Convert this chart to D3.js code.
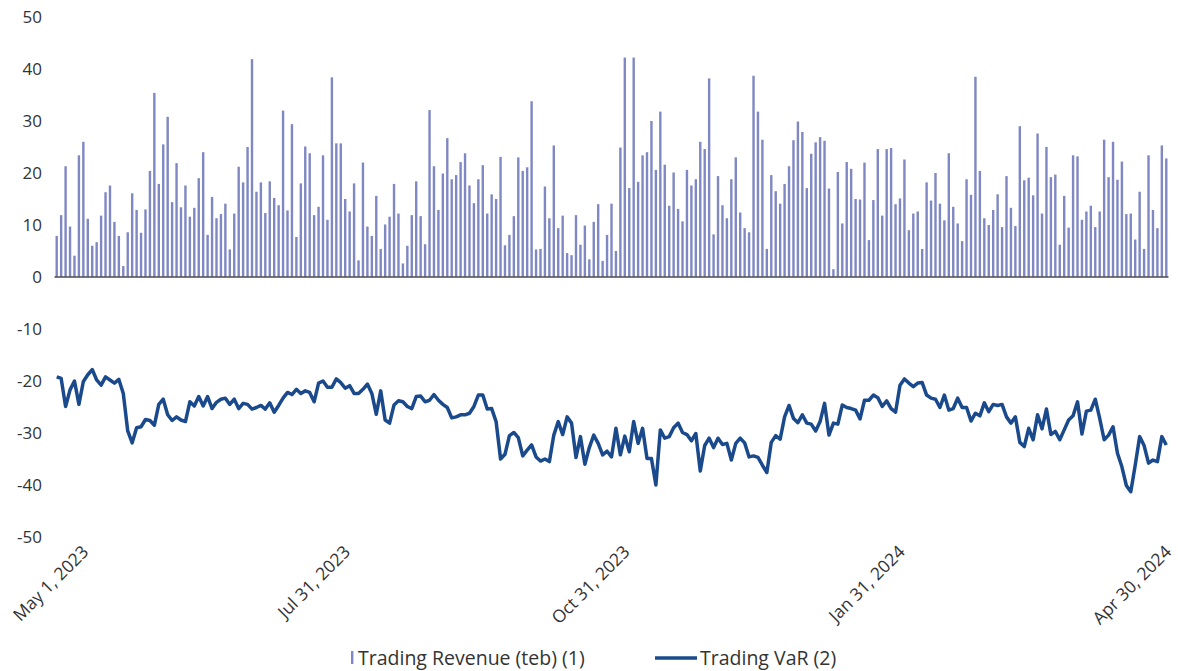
<!DOCTYPE html>
<html>
<head>
<meta charset="utf-8">
<script src="https://cdn.jsdelivr.net/npm/d3@7"></script>
<style>
  body { margin: 0; background: #fff; }
  text { font-family: "Open Sans", Lato, sans-serif; fill: #333; }
</style>
</head>
<body>
<div id="chart"></div>
<script>
// Daily trading revenue (teb), one bar per trading day, May 1 2023 - Apr 30 2024
let revenue = [
  7.9, 11.9, 21.3, 9.7, 4.1, 23.4, 26.0, 11.2, 6.0, 6.7, 11.8, 16.3, 17.6, 10.6, 7.9, 2.1, 8.6, 16.1, 12.9, 8.5, 13.0, 20.4, 35.4, 17.9, 25.5, 30.8, 14.4, 21.9, 13.4, 17.6, 11.6, 13.3, 19.0, 24.0, 8.1, 15.4, 11.3, 12.1, 14.1, 5.3, 12.2, 21.2,
  18.2, 25.0, 41.9, 16.4, 18.2, 12.3, 18.4, 15.2, 13.8, 32.0, 12.8, 29.4, 7.7, 18.0, 25.1, 23.8, 11.9, 13.5, 23.4, 11.0, 38.4, 25.7, 25.7, 15.0, 12.6, 18.0, 3.2, 22.0, 9.7, 7.9, 15.6, 5.4, 10.1, 11.6, 17.9, 12.2, 2.6, 6.0, 11.9, 18.4, 11.7, 6.3,
  32.1, 21.3, 12.9, 19.9, 26.7, 18.8, 19.6, 22.1, 23.8, 17.6, 14.2, 18.8, 21.5, 12.2, 15.9, 15.0, 23.1, 6.1, 8.1, 11.7, 23.0, 20.4, 21.1, 33.8, 5.3, 5.4, 17.4, 11.3, 25.3, 9.4, 11.8, 4.6, 4.2, 11.9, 6.2, 9.9, 3.4, 10.6, 14.0, 3.1, 8.1,
  14.1, 5.0, 24.9, 42.2, 17.1, 42.2, 18.3, 23.4, 24.0, 30.0, 20.6, 31.8, 21.6, 13.7, 20.1, 13.1, 10.7, 20.6, 17.6, 18.8, 26.0, 24.6, 38.2, 8.2, 19.4, 13.8, 11.3, 18.8, 23.0, 12.4, 9.4, 8.6, 38.7, 31.8, 26.4, 5.4, 19.6, 16.5, 14.1, 17.9, 21.3, 26.3,
  29.9, 27.9, 17.1, 23.7, 25.9, 26.9, 26.2, 17.0, 1.5, 20.2, 10.3, 22.1, 20.8, 15.0, 14.9, 22.0, 7.1, 14.8, 24.6, 11.8, 24.6, 24.8, 14.0, 15.1, 22.6, 9.0, 12.2, 12.6, 5.4, 18.2, 14.7, 20.0, 14.1, 10.9, 23.8, 13.5, 10.3, 6.9, 18.8, 15.8, 38.5, 20.4,
  11.3, 10.0, 12.9, 15.9, 9.6, 19.4, 13.3, 9.8, 29.0, 18.6, 19.1, 15.7, 27.6, 12.2, 25.0, 19.2, 19.7, 6.2, 15.6, 9.5, 23.4, 23.2, 11.0, 12.6, 13.7, 9.6, 12.6, 26.4, 19.2, 26.0, 18.7, 22.2, 12.1, 12.2, 7.2, 16.4, 5.4, 23.4, 12.9, 9.4, 25.3, 22.8
];

// Daily trading VaR
let tradingVaR = [
  -19.2, -19.5, -24.9, -21.7, -20.0, -24.5, -20.1, -18.8, -17.8, -19.8,
  -20.8, -19.2, -19.8, -20.4, -19.7, -22.4, -29.6, -31.9, -29.0, -28.8,
  -27.4, -27.6, -28.5, -24.5, -23.5, -26.5, -27.6, -26.9, -27.5, -27.8,
  -24.0, -24.8, -23.0, -24.8, -23.0, -25.3, -24.1, -23.5, -23.3, -24.5,
  -23.5, -25.3, -24.3, -24.5, -25.4, -25.1, -24.7, -25.4, -24.2, -26.0,
  -24.7, -23.3, -22.2, -22.6, -21.6, -22.4, -21.9, -22.2, -24.0, -20.4,
  -20.0, -21.2, -21.2, -19.6, -20.3, -21.4, -20.9, -22.4, -22.4, -21.6,
  -20.6, -22.4, -26.4, -21.9, -27.5, -28.1, -24.6, -23.8, -24.0, -24.9,
  -25.3, -23.0, -22.9, -24.0, -23.7,
  -22.6, -23.7, -24.5, -25.1, -27.1, -26.9, -26.5, -26.5, -26.2, -24.9,
  -22.7, -22.7, -25.4, -25.3, -27.8, -35.0, -34.1, -30.5, -29.9, -30.9,
  -34.4, -33.3, -32.3, -34.6, -35.4, -35.0, -35.5, -30.4, -27.8, -30.3,
  -26.9, -28.1, -34.7, -30.7, -36.0, -32.8, -30.4, -32.0, -34.2, -33.5,
  -34.6, -29.1, -34.2, -30.6, -33.6, -27.8, -32.0, -29.1, -34.9, -34.9,
  -40.0, -29.4, -31.0, -30.7, -29.0, -28.1, -29.9, -30.3, -31.5, -30.1,
  -37.3, -32.4, -31.0, -32.8, -31.0, -32.2, -32.0, -35.2, -32.0, -31.0,
  -31.9, -34.6, -34.4, -34.7, -36.2, -37.6, -31.8, -30.5, -31.2, -26.9,
  -24.7, -27.2, -28.0,
  -26.5, -28.1, -28.3, -29.6, -27.8, -24.3, -30.4, -28.1, -28.3, -24.6,
  -25.1, -25.3, -25.6, -27.3, -23.7, -23.7, -22.7, -23.2, -24.9, -23.8,
  -25.3, -26.0, -20.8, -19.6, -20.4, -21.1, -20.4, -20.3, -22.7, -23.3,
  -23.5, -25.1, -22.7, -25.6, -25.3, -23.3, -25.1, -25.1, -27.7, -26.2,
  -26.7, -24.2, -25.9, -24.5, -24.7, -24.5, -26.9, -28.1, -26.9, -31.8,
  -32.6, -29.1, -31.3, -26.5, -29.2, -25.4, -30.3, -29.7, -31.3, -29.4,
  -27.5, -26.7, -24.0, -30.2, -25.8, -25.6, -23.5, -27.2, -31.3, -30.4,
  -28.8, -33.9, -36.5, -40.1, -41.3, -36.2, -30.7, -32.4, -35.8, -35.2,
  -35.5, -30.7, -32.3
];

// x axis labels and the trading day (index) each sits on
let tickLabels = ["May 1, 2023", "Jul 31, 2023", "Oct 31, 2023", "Jan 31, 2024", "Apr 30, 2024"];
let tickDays = [0, 63, 126, 188, 250];

let yTicks = [50, 40, 30, 20, 10, 0, -10, -20, -30, -40, -50];

let seriesNames = ["Trading Revenue (teb) (1)", "Trading VaR (2)"];

let svgWidth = 1178;
let svgHeight = 671;

let svg = d3.select("#chart")
    .append("svg")
    .attr("width", svgWidth)
    .attr("height", svgHeight);

let days = d3.range(revenue.length);

let xScale = d3.scaleBand()
    .domain(days)
    .range([54.5, 1168.5]);

let yScale = d3.scaleLinear()
    .domain([-50, 50])
    .range([537, 17]);

let barWidth = 2.4;
let xMid = i => xScale(i) + xScale.bandwidth() / 2;

// y axis labels only (plain hyphen for negatives)
let leftAxis = d3.axisLeft(yScale)
    .tickValues(yTicks)
    .tickFormat(d => String(d))
    .tickSize(0)
    .tickPadding(0);

let yAxis = svg.append("g")
    .attr("transform", "translate(42,0)")
    .call(leftAxis);
yAxis.select(".domain").remove();
yAxis.selectAll("text")
    .style("font-size", "17px")
    .style("font-family", "'Open Sans', Lato, sans-serif")
    .attr("fill", "#333");

// bars
svg.append("g")
    .selectAll("rect")
    .data(revenue)
    .enter()
    .append("rect")
    .attr("x", (d, i) => xMid(i) - barWidth / 2)
    .attr("width", barWidth)
    .attr("y", d => yScale(Math.max(0, d)))
    .attr("height", d => Math.abs(yScale(d) - yScale(0)))
    .attr("fill", "#7f88c2");

// zero line
svg.append("line")
    .attr("x1", xScale.range()[0])
    .attr("x2", xScale.range()[1])
    .attr("y1", yScale(0))
    .attr("y2", yScale(0))
    .attr("stroke", "#4d4d4d")
    .attr("stroke-width", 1.5);

// VaR line
let line = d3.line()
    .x((d, i) => xMid(i))
    .y(d => yScale(d));

svg.append("path")
    .datum(tradingVaR)
    .attr("d", line)
    .attr("fill", "none")
    .attr("stroke", "#1a4a8c")
    .attr("stroke-width", 3.5)
    .attr("stroke-linejoin", "round");

// rotated x labels, nudged to stay inside the chart like the original
let xLabels = svg.append("g")
    .selectAll("text")
    .data(tickLabels)
    .enter()
    .append("text")
    .attr("text-anchor", "end")
    .style("font-size", "17.5px")
    .text(d => d);

xLabels.each(function(d, i) {
    let ax = xMid(tickDays[i]) + 15;
    let ay = 553;
    let el = d3.select(this);
    el.attr("transform", `translate(${ax}, ${ay}) rotate(-45)`);
    let box = this.getBoundingClientRect();
    let shift = 0;
    if (box.left < 7) shift = 7 - box.left;
    if (box.right > 1176) shift = 1176 - box.right;
    if (shift !== 0) {
        el.attr("transform", `translate(${ax + shift}, ${ay}) rotate(-45)`);
    }
});

// legend
let legend = svg.append("g")
    .attr("transform", "translate(0,658)");

legend.append("rect")
    .attr("x", 351)
    .attr("y", -7)
    .attr("width", 2.4)
    .attr("height", 13)
    .attr("fill", "#7f88c2");

legend.append("text")
    .attr("x", 358)
    .attr("y", 7)
    .style("font-size", "19.5px")
    .text(seriesNames[0]);

legend.append("line")
    .attr("x1", 655)
    .attr("x2", 697)
    .attr("y1", 0)
    .attr("y2", 0)
    .attr("stroke", "#1a4a8c")
    .attr("stroke-width", 3.5);

legend.append("text")
    .attr("x", 700)
    .attr("y", 7)
    .style("font-size", "19.5px")
    .text(seriesNames[1]);
</script>
</body>
</html>
